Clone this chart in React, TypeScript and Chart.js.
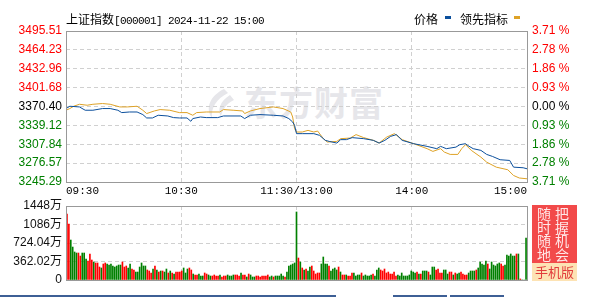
import React, { useEffect, useRef } from "react";
import { Chart, registerables } from "chart.js";

Chart.register(...registerables);

// ---------- data ----------
const titleName = "上证指数";
const titleCode = "[000001] 2024-11-22 15:00";
const legendNames = ["价格", "领先指标"];

const xTicks = [0, 60, 120, 180, 240];
const xTickLabels = ["09:30", "10:30", "11:30/13:00", "14:00", "15:00"];

const priceMin = 3245.29;
const priceMax = 3495.51;
const priceTicks = [3245.29, 3276.57, 3307.84, 3339.12, 3370.4, 3401.68, 3432.96, 3464.23, 3495.51];
const priceTickLabels = ["3245.29", "3276.57", "3307.84", "3339.12", "3370.40", "3401.68", "3432.96", "3464.23", "3495.51"];
const pctTickLabels = ["3.71 %", "2.78 %", "1.86 %", "0.93 %", "0.00 %", "0.93 %", "1.86 %", "2.78 %", "3.71 %"];

// minute index (0 = 09:30, 120 = 11:30/13:00, 240 = 15:00) and price
const priceIdx = [0, 2, 7, 10, 14, 19, 23, 27, 29, 33, 37, 40, 42, 45, 48, 53, 56, 59, 63, 65, 66, 70, 73, 79, 82, 91, 93, 96, 101, 108, 113, 116, 118, 119, 120, 123, 129, 132, 135, 137, 141, 143, 146, 149, 155, 160, 163, 166, 169, 172, 175, 181, 188, 193, 195, 196, 198, 203, 205, 208, 209, 212, 216, 219, 222, 226, 231, 233, 238, 240];
const priceVals = [3367.0, 3370.8, 3369.7, 3364.2, 3364.2, 3367.0, 3367.0, 3364.2, 3360.3, 3361.3, 3361.3, 3357.0, 3351.4, 3351.4, 3355.9, 3354.7, 3352.0, 3351.4, 3351.4, 3345.9, 3350.4, 3353.0, 3352.0, 3352.0, 3354.7, 3354.7, 3350.4, 3355.9, 3357.0, 3355.9, 3354.7, 3350.4, 3344.7, 3339.2, 3325.4, 3325.4, 3325.4, 3322.6, 3314.3, 3312.6, 3309.8, 3315.5, 3315.5, 3318.8, 3317.1, 3314.3, 3309.8, 3314.3, 3320.9, 3323.8, 3314.3, 3308.8, 3304.3, 3300.5, 3304.3, 3303.1, 3300.5, 3303.1, 3307.1, 3308.8, 3306.0, 3300.5, 3297.7, 3291.0, 3287.7, 3282.2, 3281.0, 3269.9, 3268.9, 3267.2];

const leadIdx = [0, 2, 4, 7, 11, 14, 19, 23, 28, 32, 37, 40, 42, 46, 49, 54, 59, 63, 66, 68, 73, 80, 82, 87, 92, 93, 96, 101, 108, 113, 117, 118, 119, 120, 123, 126, 129, 131, 134, 136, 141, 143, 148, 151, 155, 160, 163, 167, 171, 175, 181, 188, 191, 195, 197, 200, 204, 206, 208, 211, 216, 219, 224, 230, 233, 236, 240];
const leadVals = [3364.2, 3367.0, 3370.8, 3374.1, 3372.5, 3374.1, 3375.3, 3374.1, 3369.7, 3369.7, 3370.8, 3364.2, 3358.7, 3363.0, 3365.3, 3364.2, 3360.3, 3360.3, 3355.9, 3360.3, 3361.3, 3361.3, 3365.3, 3364.2, 3363.0, 3358.7, 3363.0, 3367.0, 3369.7, 3367.0, 3361.3, 3353.0, 3333.7, 3328.1, 3328.1, 3330.9, 3328.1, 3329.7, 3317.1, 3311.5, 3312.6, 3317.1, 3318.1, 3323.8, 3318.8, 3314.3, 3309.8, 3319.8, 3325.4, 3315.5, 3308.8, 3300.5, 3296.0, 3300.5, 3294.8, 3291.0, 3291.0, 3300.5, 3307.1, 3297.7, 3286.5, 3278.2, 3269.9, 3265.6, 3256.1, 3251.9, 3250.6];

// volume per minute (万), 241 bars
const volumes = [
  1291, 1095, 782, 645, 548, 528, 528, 469, 528, 528,
  411, 372, 509, 391, 352, 333, 333, 254, 235, 313,
  333, 313, 293, 313, 274, 254, 274, 293, 293, 352,
  254, 274, 235, 313, 215, 196, 156, 156, 254, 333,
  274, 274, 196, 176, 137, 215, 274, 196, 156, 176,
  176, 156, 215, 137, 176, 137, 117, 156, 156, 156,
  176, 235, 137, 215, 235, 196, 117, 98, 98, 117,
  78, 78, 137, 117, 98, 78, 78, 98, 78, 78,
  98, 59, 78, 78, 98, 78, 78, 98, 98, 98,
  78, 137, 98, 98, 59, 117, 98, 59, 59, 78,
  78, 59, 78, 78, 78, 98, 59, 78, 59, 78,
  78, 78, 117, 78, 59, 156, 274, 293, 313, 333,
  1331, 430, 352, 235, 196, 215, 176, 254, 274, 176,
  117, 137, 137, 313, 450, 313, 313, 274, 176, 215,
  235, 196, 254, 157, 98, 98, 98, 78, 78, 137,
  137, 78, 98, 98, 137, 78, 98, 78, 78, 98,
  117, 78, 196, 235, 196, 176, 215, 137, 156, 117,
  117, 156, 78, 98, 78, 137, 78, 78, 78, 98,
  176, 156, 137, 156, 117, 117, 176, 176, 176, 156,
  98, 254, 254, 196, 215, 137, 137, 196, 196, 117,
  156, 156, 98, 137, 117, 137, 156, 117, 98, 98,
  137, 176, 176, 176, 196, 235, 352, 313, 293, 372,
  313, 215, 352, 293, 274, 313, 333, 313, 274, 293,
  489, 469, 509, 469, 469, 509, 509, 20, 0, 0,
  822,
];
// 1 = up (red), 0 = down (green)
const volUp = [
  1, 1, 0, 0, 0, 0, 1, 1, 0, 0,
  0, 1, 1, 1, 0, 1, 1, 1, 0, 1,
  1, 0, 0, 0, 0, 0, 0, 0, 0, 1,
  1, 1, 0, 0, 1, 1, 0, 0, 0, 0,
  0, 0, 1, 1, 1, 0, 1, 0, 1, 0,
  1, 0, 0, 1, 0, 1, 0, 1, 1, 1,
  1, 0, 0, 0, 1, 1, 0, 1, 1, 0,
  0, 0, 1, 1, 0, 0, 1, 1, 1, 1,
  0, 1, 1, 1, 0, 0, 0, 0, 1, 1,
  1, 0, 1, 1, 0, 1, 0, 0, 0, 1,
  1, 1, 1, 1, 1, 1, 0, 0, 1, 0,
  0, 0, 0, 0, 1, 0, 0, 0, 0, 0,
  0, 1, 0, 1, 0, 1, 0, 0, 1, 1,
  1, 1, 1, 0, 0, 0, 0, 1, 0, 0,
  0, 0, 1, 0, 1, 1, 0, 1, 1, 1,
  0, 0, 0, 0, 1, 0, 0, 0, 0, 0,
  1, 0, 0, 0, 1, 1, 1, 1, 1, 1,
  1, 1, 1, 0, 0, 0, 0, 0, 0, 0,
  0, 0, 0, 1, 0, 1, 0, 0, 0, 1,
  0, 0, 0, 1, 1, 1, 1, 0, 0, 0,
  1, 1, 0, 1, 0, 0, 1, 1, 1, 1,
  0, 0, 0, 0, 1, 0, 0, 0, 0, 0,
  1, 0, 0, 0, 0, 0, 0, 1, 1, 0,
  0, 0, 0, 0, 0, 1, 0, 1, 0, 0,
  0,
];
const volMax = 1448.08;
const volTicks = [0, 362.02, 724.04, 1086.06, 1448.08];
const volTickLabels = ["0", "362.02万", "724.04万", "1086万", "1448万"];

const adLeft = ["随", "时", "随", "地"];
const adRight = ["把", "握", "机", "会"];
const adBottom = "手机版";
const watermark = "东方财富";

// ---------- styles ----------
const BLUE = "#0b4f9c";
const GOLD = "#dea226";
const RED = "#ff0000";
const GREEN = "#008000";
const GRID = "#d0d0d0";
const FRAME = "#999999";
const FONT_NUM = "'Liberation Sans', Arial, 'Noto Sans CJK SC', sans-serif";
const FONT_MONO = "'Liberation Mono', 'DejaVu Sans Mono', monospace";
const FONT_CJK = "'Noto Sans CJK SC', 'Liberation Sans', sans-serif";

const levelColor = (i: number) => (i < 4 ? GREEN : i > 4 ? RED : "#000000");

const framePlugin = {
  id: "frame",
  afterDraw(chart: any) {
    const { ctx, chartArea: a } = chart;
    const al = (v: number) => Math.round(v - 0.5) + 0.5;
    ctx.save();
    ctx.strokeStyle = FRAME;
    ctx.lineWidth = 1;
    ctx.setLineDash([]);
    ctx.strokeRect(al(a.left), al(a.top), al(a.right) - al(a.left), al(a.bottom) - al(a.top));
    ctx.restore();
  },
};

export default function App() {
  const priceRef = useRef<HTMLCanvasElement>(null);
  const volRef = useRef<HTMLCanvasElement>(null);

  useEffect(() => {
    const priceData = priceIdx.map((x, i) => ({ x, y: priceVals[i] }));
    const leadData = leadIdx.map((x, i) => ({ x, y: leadVals[i] }));
    const volData = volumes.map((v, i) => ({ x: i, y: v }));
    const volColors = volUp.map((u) => (u ? RED : GREEN));

    const c1 = new Chart(priceRef.current as HTMLCanvasElement, {
      type: "line",
      data: {
        datasets: [
          { label: legendNames[0], data: priceData, borderColor: BLUE, borderWidth: 1, pointRadius: 0, tension: 0, yAxisID: "y" },
          { label: legendNames[1], data: leadData, borderColor: GOLD, borderWidth: 1, pointRadius: 0, tension: 0, yAxisID: "y" },
        ],
      } as any,
      options: {
        animation: false,
        responsive: false,
        events: [],
        layout: { padding: { top: 31, bottom: 97, left: 0, right: 0 } },
        plugins: { legend: { display: false }, tooltip: { enabled: false } },
        scales: {
          x: {
            type: "linear",
            min: 0,
            max: 240,
            offset: false,
            afterBuildTicks: (s: any) => { s.ticks = xTicks.map((v) => ({ value: v })); },
            afterFit: (s: any) => { s.height = 18; },
            ticks: {
              autoSkip: false,
              maxRotation: 0,
              minRotation: 0,
              align: "inner",
              padding: 2,
              color: "#000000",
              font: { family: FONT_MONO, size: 11 },
              callback: (_v: any, i: number) => xTickLabels[i],
            },
            grid: { color: GRID, drawTicks: false, offset: false },
            border: { display: false, dash: [4, 3] },
          },
          y: {
            type: "linear",
            position: "left",
            min: priceMin,
            max: priceMax,
            afterBuildTicks: (s: any) => { s.ticks = priceTicks.map((v) => ({ value: v })); },
            afterFit: (s: any) => { s.width = 66; },
            ticks: {
              autoSkip: false,
              padding: 4,
              font: { family: FONT_NUM, size: 12 },
              color: (ctx: any) => levelColor(ctx.index),
              callback: (_v: any, i: number) => priceTickLabels[i],
            },
            grid: { color: GRID, drawTicks: false },
            border: { display: false, dash: [4, 3] },
          },
          yR: {
            type: "linear",
            position: "right",
            min: priceMin,
            max: priceMax,
            afterBuildTicks: (s: any) => { s.ticks = priceTicks.map((v) => ({ value: v })); },
            afterFit: (s: any) => { s.width = 64; },
            ticks: {
              autoSkip: false,
              padding: 5,
              font: { family: FONT_NUM, size: 12 },
              color: (ctx: any) => levelColor(ctx.index),
              callback: (_v: any, i: number) => pctTickLabels[i],
            },
            grid: { display: false, drawTicks: false },
            border: { display: false },
          },
        },
      } as any,
      plugins: [framePlugin],
    });

    const c2 = new Chart(volRef.current as HTMLCanvasElement, {
      type: "bar",
      data: {
        datasets: [
          { data: volData, backgroundColor: volColors, borderWidth: 0, barThickness: 1, xAxisID: "xb", yAxisID: "y" },
        ],
      } as any,
      options: {
        animation: false,
        responsive: false,
        events: [],
        layout: { padding: { top: 206, bottom: 17, left: 0, right: 64 } },
        plugins: { legend: { display: false }, tooltip: { enabled: false } },
        scales: {
          x: {
            type: "linear",
            axis: "x",
            position: "bottom",
            min: 0,
            max: 240,
            offset: false,
            afterBuildTicks: (s: any) => { s.ticks = xTicks.map((v) => ({ value: v })); },
            afterFit: (s: any) => { s.height = 0; },
            ticks: { display: false },
            grid: { color: GRID, drawTicks: false, offset: false },
            border: { display: false, dash: [4, 3] },
          },
          xb: {
            type: "linear",
            axis: "x",
            position: "bottom",
            display: false,
            min: -0.5,
            max: 240.5,
            offset: false,
            grid: { offset: false },
          },
          y: {
            type: "linear",
            position: "left",
            min: 0,
            max: volMax,
            afterBuildTicks: (s: any) => { s.ticks = volTicks.map((v) => ({ value: v })); },
            afterFit: (s: any) => { s.width = 66; },
            ticks: {
              autoSkip: false,
              padding: 4,
              color: "#111111",
              font: { family: FONT_NUM, size: 12 },
              callback: (_v: any, i: number) => volTickLabels[i],
            },
            grid: { color: GRID, drawTicks: false },
            border: { display: false, dash: [4, 3] },
          },
        },
      } as any,
      plugins: [framePlugin],
    });

    return () => {
      c1.destroy();
      c2.destroy();
    };
  }, []);

  const abs = (s: React.CSSProperties): React.CSSProperties => ({ position: "absolute", ...s });

  return (
    <div style={{ position: "fixed", left: 0, top: 0, width: 591, height: 297, background: "#ffffff", overflow: "hidden" }}>
      {/* watermark */}
      <svg width={591} height={297} style={abs({ left: 0, top: 0 })}>
        <path d="M224 89 C210 96 205 108 212 118 C211 108 216 99 228 93 Z" fill="#e6e6ea" />
        <path d="M230 95 C220 101 217 110 221 117 C222 110 226 104 234 100 Z" fill="#e6e6ea" />
      </svg>
      <div style={abs({ left: 244, top: 84, fontFamily: FONT_CJK, fontWeight: 700, fontSize: 34, lineHeight: "36px", color: "#e6e6ea", letterSpacing: 1, whiteSpace: "nowrap" })}>
        {watermark}
      </div>

      <canvas ref={priceRef} width={591} height={297} style={abs({ left: 0, top: 0, width: 591, height: 297 })} />
      <canvas ref={volRef} width={591} height={297} style={abs({ left: 0, top: 0, width: 591, height: 297 })} />

      {/* title */}
      <div style={abs({ left: 66, top: 12, height: 14, lineHeight: "14px", whiteSpace: "nowrap", color: "#000" })}>
        <span style={{ fontFamily: FONT_CJK, fontSize: 12 }}>{titleName}</span>
        <span style={{ fontFamily: FONT_MONO, fontSize: 11, letterSpacing: "-0.6px", whiteSpace: "pre" }}>{titleCode}</span>
      </div>

      {/* legend */}
      <div style={abs({ left: 414, top: 12, lineHeight: "14px", fontFamily: FONT_CJK, fontSize: 12, color: "#000", whiteSpace: "nowrap" })}>
        {legendNames[0]}
      </div>
      <div style={abs({ left: 445, top: 16, width: 6, height: 3, background: BLUE })} />
      <div style={abs({ left: 460, top: 12, lineHeight: "14px", fontFamily: FONT_CJK, fontSize: 12, color: "#000", whiteSpace: "nowrap" })}>
        {legendNames[1]}
      </div>
      <div style={abs({ left: 514, top: 16, width: 6, height: 3, background: GOLD })} />

      {/* ad box */}
      <div style={abs({ left: 532, top: 205, width: 45, height: 58, background: "#f24a4a" })}>
        <div style={abs({ left: 5, top: 2, width: 16, display: "flex", flexDirection: "column", fontFamily: FONT_CJK, fontSize: 14, lineHeight: "13.5px", color: "#ffe8e8" })}>
          {adLeft.map((c, i) => <span key={i}>{c}</span>)}
        </div>
        <div style={abs({ left: 23, top: 2, width: 16, display: "flex", flexDirection: "column", fontFamily: FONT_CJK, fontSize: 14, lineHeight: "13.5px", color: "#ffe8e8" })}>
          {adRight.map((c, i) => <span key={i}>{c}</span>)}
        </div>
      </div>
      <div style={abs({ left: 532, top: 263, width: 45, height: 18, background: "#fde3b4", fontFamily: FONT_CJK, fontSize: 13, lineHeight: "18px", color: "#e23b3b", textAlign: "center", whiteSpace: "nowrap" })}>
        {adBottom}
      </div>

      {/* bottom tabs */}
      <div style={abs({ left: 0, top: 295, width: 336, height: 2, background: "#3d5f95" })} />
      <div style={abs({ left: 393, top: 295, width: 54, height: 2, background: "#3d5f95" })} />
      <div style={abs({ left: 450, top: 295, width: 54, height: 2, background: "#3d5f95" })} />
    </div>
  );
}
